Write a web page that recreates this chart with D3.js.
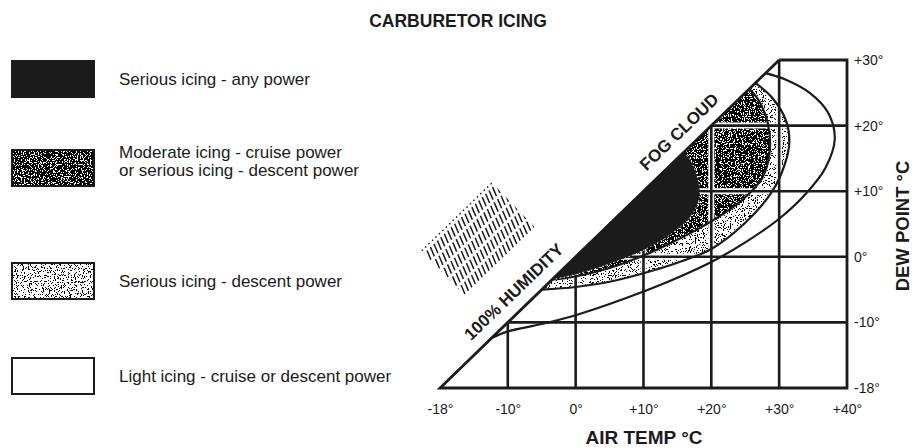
<!DOCTYPE html>
<html>
<head>
<meta charset="utf-8">
<script src="https://cdn.jsdelivr.net/npm/d3@7"></script>
<style>
  body { margin: 0; background: #fff; }
  svg { display: block; }
  text { font-family: "Liberation Sans", Arial, sans-serif; fill: #1b1b1b; }
</style>
</head>
<body>
<svg id="chart" width="918" height="448"></svg>
<script>
(function () {
  'use strict';

  // axis ticks (the -18 corner is drawn where -20 would sit)
  var xTickValues = [-18, -10, 0, 10, 20, 30, 40];
  var xTickLabels = ['-18°', '-10°', '0°', '+10°', '+20°', '+30°', '+40°'];
  var yTickValues = [-18, -10, 0, 10, 20, 30];
  var yTickLabels = ['-18°', '-10°', '0°', '+10°', '+20°', '+30°'];

  // region edges as [air temp, dew point]; each starts and ends on the 100% humidity line
  var lightEdge = [[-11.9, -11.9], [-10, -11.1], [-5, -10.2], [0, -8.9], [5, -7.2], [10, -5.3], [15, -3.2],
    [20, -0.8], [25, 2.2], [30, 5.8], [34, 9.7], [36.8, 13.5], [38.2, 18], [37.2, 22], [34.5, 25], [31, 27], [28, 28]];
  var descentEdge = [[-5, -5], [0, -4.6], [5, -3.8], [10, -2.5], [15, -0.9], [20, 1.2], [25, 5.2], [29, 10],
    [30.8, 14], [31.5, 17.5], [31, 20.8], [29, 24.2], [26.5, 26.5]];
  var moderateEdge = [[-3.5, -3.5], [0, -3], [5, -1.7], [10, 0.2], [15, 2.6], [20, 5.4], [24.5, 8.6], [27.5, 12],
    [28.6, 16], [28.3, 20.5], [27, 23.8], [25.6, 25.6]];
  var seriousEdge = [[-3.5, -3.5], [0, -2.7], [5, -1.1], [10, 1], [14, 3.4], [17, 6.2], [18.3, 9.2],
    [18, 12], [17.1, 14.4], [16, 16]];

  var gridX = [-10, 0, 10, 20, 30];
  var gridY = [-10, 0, 10, 20];

  var legendLabels = [
    ['Serious icing - any power'],
    ['Moderate icing - cruise power', 'or serious icing - descent power'],
    ['Serious icing - descent power'],
    ['Light icing - cruise or descent power']
  ];

  var svg = d3.select('#chart');
  var defs = svg.append('defs');
  var INK = '#1b1b1b';

  var x = d3.scaleLinear().domain([-18, -10, 40]).range([440, 507.8, 847]);
  var y = d3.scaleLinear().domain([-18, -10, 30]).range([388, 322.4, 60]);

  function stippleFilter(id, cut, seed) {
    var n = 40;
    var table = d3.range(n).map(function (i) { return i / n >= cut ? 1 : 0; }).join(' ');
    var f = defs.append('filter').attr('id', id)
      .attr('x', 0).attr('y', 0).attr('width', 1).attr('height', 1)
      .attr('color-interpolation-filters', 'sRGB');
    f.append('feTurbulence').attr('type', 'fractalNoise').attr('baseFrequency', 0.85)
      .attr('numOctaves', 2).attr('seed', seed);
    f.append('feColorMatrix').attr('type', 'matrix')
      .attr('values', '0 0 0 0 0  0 0 0 0 0  0 0 0 0 0  1 0 0 0 0');
    f.append('feComponentTransfer').append('feFuncA')
      .attr('type', 'discrete').attr('tableValues', table);
  }
  stippleFilter('stip-dark', 0.41, 4);
  stippleFilter('stip-light', 0.58, 9);

  function stippleRect(g, filterId, x0, y0, w, h) {
    g.append('rect').attr('x', x0).attr('y', y0).attr('width', w).attr('height', h).attr('fill', '#fff');
    g.append('rect').attr('x', x0).attr('y', y0).attr('width', w).attr('height', h)
      .attr('fill', '#000').attr('filter', 'url(#' + filterId + ')');
  }

  var edgeLine = d3.line()
    .x(function (d) { return x(d[0]); })
    .y(function (d) { return y(d[1]); })
    .curve(d3.curveCatmullRom.alpha(0.5));
  function regionPath(pts) { return edgeLine(pts) + 'Z'; }

  defs.append('clipPath').attr('id', 'clip-descent').append('path').attr('d', regionPath(descentEdge));
  defs.append('clipPath').attr('id', 'clip-moderate').append('path').attr('d', regionPath(moderateEdge));

  var px0 = x(-18), px1 = x(40), py0 = y(30), py1 = y(-18);

  // title
  svg.append('text').attr('x', 458).attr('y', 27).attr('text-anchor', 'middle')
    .attr('font-size', 17.5).attr('font-weight', 'bold').text('CARBURETOR ICING');

  // regions
  var plot = svg.append('g');
  plot.append('path').attr('d', regionPath(lightEdge)).attr('fill', '#fff');
  stippleRect(plot.append('g').attr('clip-path', 'url(#clip-descent)'), 'stip-light', px0, py0, px1 - px0, py1 - py0);
  stippleRect(plot.append('g').attr('clip-path', 'url(#clip-moderate)'), 'stip-dark', px0, py0, px1 - px0, py1 - py0);

  function gridLines(g) {
    gridX.forEach(function (v) {
      g.append('line').attr('x1', x(v)).attr('x2', x(v)).attr('y1', y(-18)).attr('y2', y(v));
    });
    gridY.forEach(function (v) {
      g.append('line').attr('x1', x(v)).attr('x2', x(40)).attr('y1', y(v)).attr('y2', y(v));
    });
  }
  // white halo for grid lines crossing the stippled areas
  gridLines(plot.append('g').attr('clip-path', 'url(#clip-descent)')
    .attr('stroke', '#fff').attr('stroke-width', 6));

  [lightEdge, descentEdge, moderateEdge].forEach(function (pts) {
    plot.append('path').attr('d', edgeLine(pts)).attr('fill', 'none')
      .attr('stroke', INK).attr('stroke-width', 2.2);
  });

  gridLines(plot.append('g').attr('stroke', INK).attr('stroke-width', 2.6));

  plot.append('path').attr('d', regionPath(seriousEdge)).attr('fill', INK);
  plot.append('path').attr('d', edgeLine(seriousEdge)).attr('fill', 'none')
    .attr('stroke', '#fff').attr('stroke-width', 0.9).attr('stroke-dasharray', '1.5 2.5');

  // 100% humidity line and frame
  var frame = plot.append('g').attr('stroke', INK).attr('stroke-width', 2.8).attr('fill', 'none');
  frame.append('path').attr('d', d3.line()([
    [x(30), y(30)], [x(-18), y(-18)], [x(40), y(-18)], [x(40), y(30)], [x(30), y(30)]
  ]));

  // hatch (moist air) left of the saturation line
  var p0 = [x(-18), y(-18)], p1 = [x(30), y(30)];
  var len = Math.hypot(p1[0] - p0[0], p1[1] - p0[1]);
  var u = [(p1[0] - p0[0]) / len, (p1[1] - p0[1]) / len];
  var nrm = [u[1], -u[0]];
  function onDiag(along, off) {
    return [p0[0] + u[0] * along + nrm[0] * off, p0[1] + u[1] * along + nrm[1] * off];
  }
  var band = [onDiag(82, 50), onDiag(180, 50), onDiag(180, 112), onDiag(82, 112)];
  defs.append('clipPath').attr('id', 'clip-hatch').append('path').attr('d', d3.line()(band) + 'Z');
  var hatch = svg.append('g').attr('clip-path', 'url(#clip-hatch)')
    .attr('stroke', INK).attr('stroke-width', 1.5).attr('stroke-dasharray', '10 3');
  var dir = [-Math.cos(67 * Math.PI / 180), -Math.sin(67 * Math.PI / 180)];
  for (var a = 40; a <= 210; a += 4.8) {
    var s = onDiag(a, 50);
    hatch.append('line').attr('x1', s[0]).attr('y1', s[1])
      .attr('x2', s[0] + dir[0] * 90).attr('y2', s[1] + dir[1] * 90);
  }

  // labels along the saturation line
  var ang = Math.atan2(p1[1] - p0[1], p1[0] - p0[0]) * 180 / Math.PI;
  function diagLabel(txt, along, off) {
    var c = onDiag(along, off);
    svg.append('text').attr('transform', 'translate(' + c[0] + ',' + c[1] + ') rotate(' + ang + ')')
      .attr('text-anchor', 'middle').attr('dy', '0.35em')
      .attr('font-size', 17).attr('font-weight', 'bold').text(txt);
  }
  diagLabel('100% HUMIDITY', 120, 18);
  diagLabel('FOG CLOUD', 350, 18);

  // axes
  var xAxis = svg.append('g').attr('transform', 'translate(0,' + y(-18) + ')')
    .call(d3.axisBottom(x).tickValues(xTickValues)
      .tickFormat(function (d, i) { return xTickLabels[i]; }).tickSize(0).tickPadding(16));
  xAxis.select('.domain').remove();
  xAxis.selectAll('text').attr('font-size', 14).attr('fill', INK)
    .attr('font-family', '"Liberation Sans", Arial, sans-serif');

  var yAxis = svg.append('g').attr('transform', 'translate(' + x(40) + ',0)')
    .call(d3.axisRight(y).tickValues(yTickValues)
      .tickFormat(function (d, i) { return yTickLabels[i]; }).tickSize(0).tickPadding(7));
  yAxis.select('.domain').remove();
  yAxis.selectAll('text').attr('font-size', 14).attr('fill', INK)
    .attr('font-family', '"Liberation Sans", Arial, sans-serif');

  svg.append('text').attr('x', 644).attr('y', 444).attr('text-anchor', 'middle')
    .attr('font-size', 19).attr('font-weight', 'bold').text('AIR TEMP °C');
  svg.append('text').attr('transform', 'translate(903,226) rotate(-90)').attr('text-anchor', 'middle')
    .attr('dy', '0.35em').attr('font-size', 18.5).attr('font-weight', 'bold').text('DEW POINT °C');

  // legend
  var legendRowY = [79, 168, 281, 376];
  var legendStyle = ['solid', 'stip-dark', 'stip-light', 'blank'];
  var boxX = 12, boxW = 82, boxH = 36, textX = 119;
  legendLabels.forEach(function (lines, i) {
    var g = svg.append('g');
    var top = legendRowY[i] - boxH / 2;
    if (legendStyle[i] === 'solid') {
      g.append('rect').attr('x', boxX).attr('y', top).attr('width', boxW).attr('height', boxH).attr('fill', INK);
    } else if (legendStyle[i] === 'blank') {
      g.append('rect').attr('x', boxX).attr('y', top).attr('width', boxW).attr('height', boxH).attr('fill', '#fff');
    } else {
      stippleRect(g, legendStyle[i], boxX, top, boxW, boxH);
    }
    g.append('rect').attr('x', boxX).attr('y', top).attr('width', boxW).attr('height', boxH)
      .attr('fill', 'none').attr('stroke', INK).attr('stroke-width', 2);
    var cy = lines.length > 1 ? legendRowY[i] - 7 : legendRowY[i];
    var t = g.append('text').attr('font-size', 17);
    lines.forEach(function (line, j) {
      t.append('tspan').attr('x', textX)
        .attr('y', cy + (j - (lines.length - 1) / 2) * 18)
        .attr('dy', '0.35em').text(line);
    });
  });
})();
</script>
</body>
</html>
